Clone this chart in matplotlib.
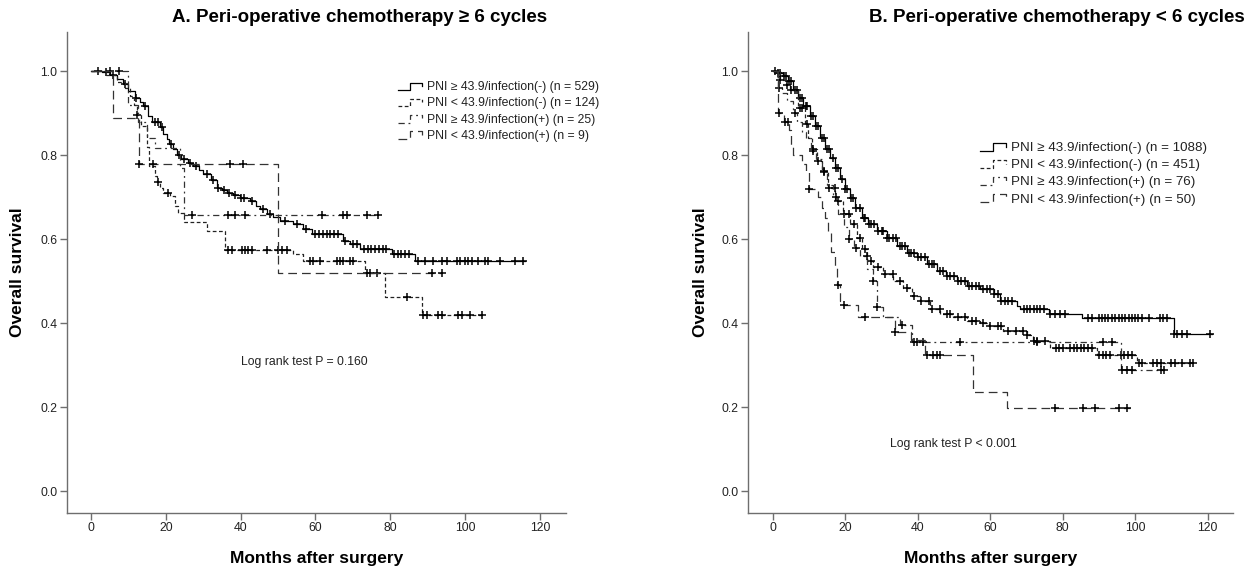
import numpy as np
import matplotlib
matplotlib.use("Agg")
import matplotlib.pyplot as plt
from matplotlib.lines import Line2D
from matplotlib.legend_handler import HandlerBase

plt.rcParams['font.family'] = ['Liberation Sans', 'DejaVu Sans']

# ---------------- Data: panel A (>= 6 cycles) ----------------
A_labels = ["PNI \u2265 43.9/infection(-) (n = 529)",
            "PNI < 43.9/infection(-) (n = 124)",
            "PNI \u2265 43.9/infection(+) (n = 25)",
            "PNI < 43.9/infection(+) (n = 9)"]

A1_t = [0, 3, 5, 7, 8.5, 10, 11.8, 13, 14, 15.3, 16.2, 18.4, 19.3, 20.2, 21, 22, 23, 24.2, 26, 27.4,
        29, 30, 32, 33.6, 35, 36.3, 38, 39.8, 42.5, 44, 45.2, 47, 48.7, 50.5, 54.1, 56.8, 59, 67.5,
        69.3, 72, 80.4, 86.6]
A1_s = [1.0, 0.997, 0.99, 0.981, 0.97, 0.953, 0.937, 0.927, 0.917, 0.894, 0.878, 0.866, 0.85, 0.838,
        0.826, 0.814, 0.80, 0.79, 0.782, 0.775, 0.765, 0.755, 0.74, 0.723, 0.716, 0.711, 0.705, 0.699,
        0.691, 0.68, 0.671, 0.66, 0.652, 0.644, 0.636, 0.624, 0.612, 0.596, 0.589, 0.576, 0.564, 0.548]
A1_end = 116
A1_cens = [2, 4, 6, 9, 12, 14.5, 17, 18, 19, 21.5, 23.5, 25, 26.5, 28, 31, 32.5, 34, 35.5, 37, 38.5,
           40, 41, 43, 46, 48, 52, 55, 57.5, 60, 61, 62, 63, 64, 65, 66, 68, 70, 71, 73, 74, 75, 76,
           77, 78, 79, 81, 82, 83, 84, 85, 87.5, 89.3, 91.5, 93.8, 95.1, 97.8, 98.6, 100, 100.9, 101.8,
           103.6, 105.3, 106.2, 109.4, 113.4, 115.6]

A2_t = [0, 4, 7, 9, 10.5, 11.5, 12.3, 13.5, 15.0, 15.5, 17, 17.6, 18.4, 19.3, 21.1, 22.5, 23.3, 24.9,
        30.9, 35.9, 54.1, 56.8, 73.3, 78.6, 88.4]
A2_s = [1.0, 0.99, 0.975, 0.96, 0.94, 0.92, 0.895, 0.87, 0.82, 0.775, 0.75, 0.735, 0.723, 0.711,
        0.703, 0.68, 0.663, 0.640, 0.620, 0.575, 0.564, 0.548, 0.52, 0.462, 0.419]
A2_end = 104.7
A2_cens = [12.4, 17.8, 20.5, 36.7, 37.6, 40.3, 41.2, 42.1, 43.0, 47.0, 50.1, 51.0, 52.3, 58.6, 59.4,
           61.2, 65.7, 66.6, 67.5, 69.3, 70.1, 73.7, 74.6, 76.4, 84.4, 88.9, 89.8, 92.9, 93.8, 98.2,
           99.1, 101.3, 104.5]

A3_t = [0, 10.0, 12.5, 15.0, 17.0, 23.8, 24.9]
A3_s = [1.0, 0.92, 0.88, 0.84, 0.817, 0.77, 0.658]
A3_end = 76.8
A3_cens = [5, 7.5, 26.9, 36.7, 38.5, 41.2, 61.7, 67.5, 68.4, 73.7, 76.8]

A4_t = [0, 6.0, 12.8, 50.0]
A4_s = [1.0, 0.889, 0.778, 0.519]
A4_end = 93.9
A4_cens = [12.8, 16.5, 37.1, 40.7, 91.1, 93.9]

# ---------------- Data: panel B (< 6 cycles) ----------------
B_labels = ["PNI \u2265 43.9/infection(-) (n = 1088)",
            "PNI < 43.9/infection(-) (n = 451)",
            "PNI \u2265 43.9/infection(+) (n = 76)",
            "PNI < 43.9/infection(+) (n = 50)"]

B1_t = [0, 1, 2.8, 4.2, 5.6, 7.0, 8.4, 10.2, 11.6, 13.0, 14.4, 15.8, 17.1, 18.5, 19.9, 21.3, 22.7,
        24.5, 26.3, 28.6, 31.4, 34.1, 36.9, 39.7, 42.4, 45.2, 47.9, 50.7, 53.5, 57.2, 60.9, 62.7,
        67.3, 68.2, 76.1, 85.3, 110.6]
B1_s = [1.0, 0.995, 0.988, 0.976, 0.956, 0.937, 0.917, 0.893, 0.869, 0.841, 0.814, 0.794, 0.770,
        0.743, 0.719, 0.699, 0.675, 0.651, 0.636, 0.620, 0.604, 0.584, 0.568, 0.557, 0.541, 0.525,
        0.513, 0.501, 0.489, 0.482, 0.469, 0.454, 0.442, 0.434, 0.422, 0.413, 0.374]
B1_end = 121.1
B1_cens = [0.5, 1.5, 2, 3, 3.5, 4.5, 5, 6, 6.5, 7.5, 8, 9, 9.5, 10.5, 11, 12, 12.5, 13.5, 14, 15,
           15.5, 16.5, 17.5, 18, 19, 20, 20.5, 21.5, 22, 23, 24, 25, 25.5, 26.5, 27, 28, 29, 30, 30.5,
           31.5, 32, 33, 34, 35, 35.5, 36.5, 37.5, 38, 39, 40, 41, 42, 43, 44, 44.5, 46, 47, 48, 49,
           50, 51, 52, 53, 54, 55, 56, 57, 58, 59, 60, 61, 62, 63, 64, 65, 66, 69.2, 70.1, 71.0, 72.0,
           72.9, 73.8, 74.7, 76.5, 77.9, 79.3, 80.7, 87.1, 88.0, 89.9, 90.8, 91.7, 92.6, 93.5, 94.5,
           95.4, 96.3, 97.2, 98.2, 99.1, 100.0, 100.9, 101.8, 103.7, 106.9, 107.8, 108.7, 110.6,
           111.5, 112.9, 114.3, 120.7]

B2_t = [0, 1.8, 3.6, 4.7, 7.0, 8.8, 9.8, 10.7, 12.1, 13.4, 15.3, 17.1, 19.4, 21.3, 23.1, 24.5, 25.9,
        27.7, 30.5, 33.2, 36.0, 38.3, 40.6, 43.4, 46.1, 49.8, 53.5, 57.2, 59.5, 63.6, 70, 71.9, 76.5,
        89.4, 100.5]
B2_s = [1.0, 0.98, 0.968, 0.956, 0.913, 0.873, 0.841, 0.814, 0.786, 0.762, 0.723, 0.691, 0.659,
        0.636, 0.604, 0.576, 0.549, 0.533, 0.517, 0.501, 0.485, 0.466, 0.454, 0.434, 0.422, 0.414,
        0.406, 0.40, 0.394, 0.381, 0.373, 0.357, 0.341, 0.325, 0.305]
B2_end = 116
B2_cens = [2, 4, 5, 7.5, 8, 9.5, 11, 12.5, 14, 15.5, 17, 18, 19.5, 21, 22.5, 24, 25.5, 27, 29, 31,
           33, 35, 37, 39, 41, 43, 44, 46, 48, 49, 51, 53, 55, 56, 58, 60, 62, 63, 65, 67, 69, 70,
           72, 73, 75, 78, 79, 80, 82, 83, 84, 85, 86, 87, 88, 90, 91, 92, 93, 96, 97, 98, 99, 101,
           102, 105, 106, 107, 110, 111, 113, 115, 116]

B3_t = [0, 1.0, 1.5, 2.5, 4, 5.5, 6.5, 8, 9, 10.5, 12, 13.5, 15, 16.5, 18, 19.5, 21, 22.5, 24, 26,
        27.5, 28.6, 30.5, 35.1, 38.3, 96]
B3_s = [1.0, 0.987, 0.96, 0.947, 0.93, 0.90, 0.88, 0.855, 0.84, 0.81, 0.79, 0.76, 0.73, 0.70, 0.66,
        0.63, 0.60, 0.58, 0.56, 0.53, 0.50, 0.438, 0.414, 0.395, 0.355, 0.29]
B3_end = 108
B3_cens = [1.6, 6, 11, 14, 17.5, 21, 23, 25.9, 27.7, 28.8, 35.5, 38.8, 39.7, 41.5, 51.7, 72.8, 91.2,
           93.5, 96.3, 97.7, 99.1, 107.0, 107.9]

B4_t = [0, 1.5, 3.0, 4.5, 5.0, 5.6, 8.0, 9.0, 10.0, 12.5, 13.4, 14.4, 15.3, 15.9, 17.1, 17.6, 18.5,
        19.4, 23.6, 33.7, 38, 42, 55.3, 64.5]
B4_s = [1.0, 0.90, 0.88, 0.86, 0.82, 0.80, 0.78, 0.76, 0.72, 0.70, 0.675, 0.65, 0.62, 0.57, 0.535,
        0.49, 0.453, 0.444, 0.414, 0.38, 0.36, 0.325, 0.237, 0.198]
B4_end = 98.6
B4_cens = [1.6, 3.3, 4.2, 10.0, 18.0, 19.6, 25.4, 33.7, 42.6, 44.3, 45.2, 46.1, 77.9, 85.7, 89.0,
           95.4, 97.7]

x_ticks = [0, 20, 40, 60, 80, 100, 120]
y_ticks = [0.0, 0.2, 0.4, 0.6, 0.8, 1.0]

# ---------------- Styles ----------------
styles = [dict(color='black', ls='-', lw=0.9),
          dict(color='#222222', ls=(0, (3, 2)), lw=0.9),
          dict(color='#333333', ls=(0, (5, 3, 1.5, 3)), lw=0.9),
          dict(color='#333333', ls=(0, (7, 4)), lw=0.9)]


class StepHandler(HandlerBase):
    def create_artists(self, legend, orig_handle, xdescent, ydescent, width, height, fontsize, trans):
        x0, y0 = -xdescent, -ydescent
        xs = [x0, x0 + 0.45 * width, x0 + 0.45 * width, x0 + 0.9 * width, x0 + 0.9 * width]
        ys = [y0 + 0.1 * height, y0 + 0.1 * height, y0 + 0.85 * height, y0 + 0.85 * height, y0 + 0.5 * height]
        ln = Line2D(xs, ys)
        ln.update_from(orig_handle)
        ln.set_marker('None')
        ln.set_transform(trans)
        return [ln]


def km(ax, t, s, end, cens, st):
    tt = list(t) + [end]
    ss = list(s) + [s[-1]]
    line, = ax.step(tt, ss, where='post', color=st['color'], ls=st['ls'], lw=st['lw'])
    ta = np.asarray(t)
    sa = np.asarray(s)
    c = np.asarray(cens, dtype=float)
    idx = np.searchsorted(ta, c, side='right') - 1
    ax.plot(c, sa[idx], ls='none', marker='+', ms=5.5, mew=1.1, color='black')
    return line


W, H = 1250, 570
fig = plt.figure(figsize=(W / 100, H / 100), dpi=100)


def px_axes(x0, x1, y_top, y_bot):
    return fig.add_axes([x0 / W, 1 - y_bot / H, (x1 - x0) / W, (y_bot - y_top) / H])


def style_axes(ax, xlim, ylim):
    ax.set_xlim(*xlim)
    ax.set_ylim(*ylim)
    for sp in ['top', 'right']:
        ax.spines[sp].set_visible(False)
    for sp in ['left', 'bottom']:
        ax.spines[sp].set_color('#6e6e6e')
        ax.spines[sp].set_linewidth(1.0)
    ax.set_xticks(x_ticks)
    ax.set_yticks(y_ticks)
    ax.set_yticklabels([f"{v:.1f}" for v in y_ticks])
    ax.tick_params(direction='out', length=5, width=1.0, color='#6e6e6e', labelsize=8.8,
                   labelcolor='#222222', pad=2)


panels = [
    dict(axpx=(67, 566), xlim=(-6.4, 127),
         curves=[(A1_t, A1_s, A1_end, A1_cens), (A2_t, A2_s, A2_end, A2_cens),
                 (A3_t, A3_s, A3_end, A3_cens), (A4_t, A4_s, A4_end, A4_cens)],
         labels=A_labels, title="A. Peri-operative chemotherapy \u2265 6 cycles", title_x=360,
         logrank=("Log rank test P = 0.160", 40, 0.307), leg_fs=8.8, leg_sp=0.32,
         legend_xy=(398, 81), ylabel_x=18),
    dict(axpx=(748, 1233), xlim=(-6.9, 127),
         curves=[(B1_t, B1_s, B1_end, B1_cens), (B2_t, B2_s, B2_end, B2_cens),
                 (B3_t, B3_s, B3_end, B3_cens), (B4_t, B4_s, B4_end, B4_cens)],
         labels=B_labels, title="B. Peri-operative chemotherapy < 6 cycles", title_x=1057,
         logrank=("Log rank test P < 0.001", 32.3, 0.114), leg_fs=9.6, leg_sp=0.3,
         legend_xy=(980, 141), ylabel_x=700),
]

for p in panels:
    ax = px_axes(p['axpx'][0], p['axpx'][1], 32, 512.5)
    style_axes(ax, p['xlim'], (-0.05, 1.093))
    handles = []
    for (t, s, end, cens), st in zip(p['curves'], styles):
        handles.append(km(ax, t, s, end, cens, st))
    leg = fig.legend(handles, p['labels'], loc='upper left',
                     bbox_to_anchor=(p['legend_xy'][0] / W, 1 - p['legend_xy'][1] / H),
                     frameon=False, fontsize=p['leg_fs'], handlelength=2.2, handleheight=0.9,
                     handletextpad=0.15, labelspacing=p['leg_sp'], borderpad=0, borderaxespad=0,
                     handler_map={Line2D: StepHandler()})
    for txt in leg.get_texts():
        txt.set_color('#222222')
    ax.text(p['logrank'][1], p['logrank'][2], p['logrank'][0], fontsize=8.8, color='#222222',
            ha='left', va='center')
    fig.text(p['title_x'] / W, 1 - 18 / H, p['title'], fontsize=13.5, fontweight='bold',
             ha='center', va='center')
    cx = (p['axpx'][0] + p['axpx'][1]) / 2
    fig.text(cx / W, 1 - 558 / H, "Months after surgery", fontsize=12.5, fontweight='bold',
             ha='center', va='center')
    fig.text(p['ylabel_x'] / W, 1 - 272 / H, "Overall survival", fontsize=12.5, fontweight='bold',
             ha='center', va='center', rotation=90)

fig.savefig("out.png", dpi=100)
